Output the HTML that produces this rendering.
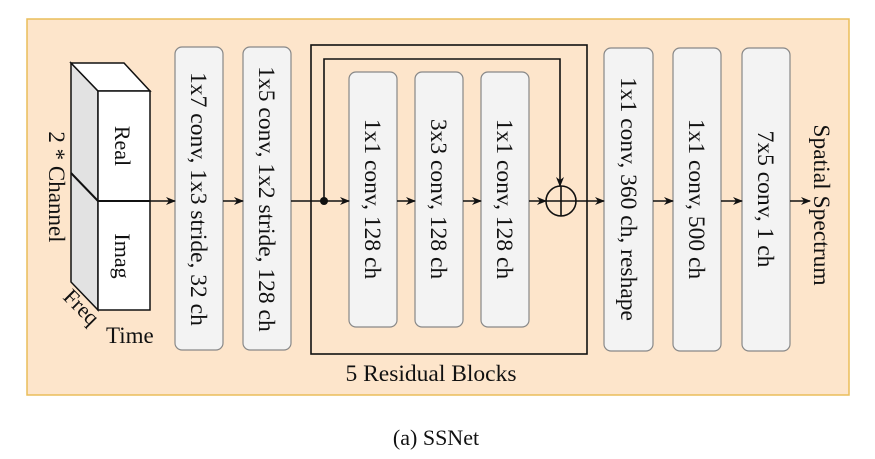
<!DOCTYPE html>
<html><head><meta charset="utf-8"><style>body{margin:0;background:#fff}svg{display:block}</style></head>
<body>
<svg width="875" height="459" viewBox="0 0 875 459" xmlns="http://www.w3.org/2000/svg" font-family="'Liberation Serif', serif" font-size="23.5" fill="#111">
<defs><marker id="a" markerWidth="10" markerHeight="8" refX="9" refY="4" orient="auto" markerUnits="userSpaceOnUse"><path d="M0,0 L10,4 L0,8 L3,4 Z" fill="#111"/></marker></defs>
<rect x="27" y="19" width="822" height="376" fill="#fde5cb" stroke="#eabd5a" stroke-width="1.5"/>
<polygon points="71,63 98,91 98,310 71,282" fill="#e2e2e2" stroke="#111" stroke-width="1.5"/>
<polygon points="71,63 124,63 150,91 98,91" fill="#fff" stroke="#111" stroke-width="1.5"/>
<rect x="98" y="91" width="52" height="219" fill="#fff" stroke="#111" stroke-width="1.5"/>
<line x1="71" y1="173" x2="98" y2="201" stroke="#111" stroke-width="2"/>
<line x1="98" y1="201" x2="150" y2="201" stroke="#111" stroke-width="2"/>
<text transform="translate(115,146) rotate(90)" text-anchor="middle" font-size="22">Real</text>
<text transform="translate(115,256) rotate(90)" text-anchor="middle" font-size="22">Imag</text>
<text transform="translate(49,187) rotate(90)" text-anchor="middle" font-size="23">2 * Channel</text>
<text transform="translate(62,298) rotate(45)" font-size="22">Freq</text>
<text x="106" y="343" font-size="23">Time</text>
<g fill="#f3f3f3" stroke="#888" stroke-width="1.2">
<rect x="175" y="47" width="48" height="303" rx="7"/>
<rect x="243" y="47" width="48" height="303" rx="7"/>
<rect x="349" y="72" width="48" height="255" rx="7"/>
<rect x="415" y="72" width="48" height="255" rx="7"/>
<rect x="481" y="72" width="48" height="255" rx="7"/>
<rect x="604" y="48" width="49" height="303" rx="7"/>
<rect x="673" y="48" width="48" height="303" rx="7"/>
<rect x="742" y="48" width="48" height="303" rx="7"/>
</g>
<g text-anchor="middle">
<text transform="translate(191,199) rotate(90)">1x7 conv, 1x3 stride, 32 ch</text>
<text transform="translate(259,199) rotate(90)">1x5 conv, 1x2 stride, 128 ch</text>
<text transform="translate(365,199) rotate(90)">1x1 conv, 128 ch</text>
<text transform="translate(431,199) rotate(90)">3x3 conv, 128 ch</text>
<text transform="translate(497,199) rotate(90)">1x1 conv, 128 ch</text>
<text transform="translate(621,199) rotate(90)">1x1 conv, 360 ch, reshape</text>
<text transform="translate(689,199) rotate(90)">1x1 conv, 500 ch</text>
<text transform="translate(758,199) rotate(90)">7x5 conv, 1 ch</text>
<text transform="translate(814,205) rotate(90)">Spatial Spectrum</text>
<text x="431" y="381">5 Residual Blocks</text>
<text x="436" y="445" font-size="22">(a) SSNet</text>
</g>
<rect x="311" y="45" width="276" height="309" fill="none" stroke="#111" stroke-width="1.6"/>
<g stroke="#111" stroke-width="1.6" fill="none">
<line x1="150" y1="201" x2="175" y2="201" marker-end="url(#a)"/>
<line x1="223" y1="201" x2="243" y2="201" marker-end="url(#a)"/>
<line x1="291" y1="201" x2="349" y2="201" marker-end="url(#a)"/>
<line x1="397" y1="201" x2="415" y2="201" marker-end="url(#a)"/>
<line x1="463" y1="201" x2="481" y2="201" marker-end="url(#a)"/>
<line x1="529" y1="201" x2="546" y2="201" marker-end="url(#a)"/>
<polyline points="324,201 324,59 560,59 560,186" marker-end="url(#a)"/>
<circle cx="561" cy="201" r="15"/>
<line x1="546" y1="201" x2="576" y2="201"/>
<line x1="561" y1="186" x2="561" y2="216"/>
<line x1="576" y1="201" x2="604" y2="201" marker-end="url(#a)"/>
<line x1="653" y1="201" x2="673" y2="201" marker-end="url(#a)"/>
<line x1="721" y1="201" x2="742" y2="201" marker-end="url(#a)"/>
<line x1="790" y1="201" x2="810" y2="201" marker-end="url(#a)"/>
</g>
<circle cx="324" cy="201" r="4" fill="#111"/>
</svg>
</body></html>
